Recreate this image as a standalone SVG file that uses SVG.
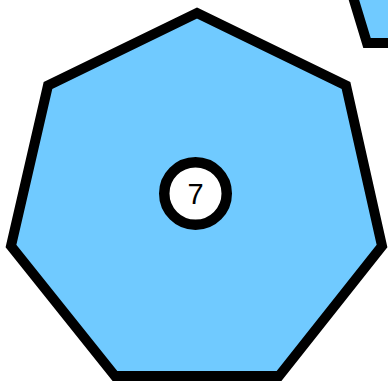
<svg xmlns="http://www.w3.org/2000/svg" width="388" height="381" viewBox="0 0 388 381">
<style>
.shape{fill:#70CAFF;stroke:#000;stroke-width:10;stroke-linejoin:miter}
.badge{fill:#fff;stroke:#000;stroke-width:10.5}
.lbl{font-family:"Liberation Sans",Arial,sans-serif;font-size:29px;fill:#000;text-anchor:middle;dominant-baseline:central}
</style>
<rect width="388" height="381" fill="#fff"/>
<g id="neighbor">
<polygon class="shape" points="351.5,-8 367,43 420,43 420,-8"/>
</g>
<g id="node7">
<polygon class="shape" points="197,13 346,85.5 382,246 279,376 115,376 11,246 48,85.5"/>
<circle class="badge" cx="195.5" cy="193.5" r="31.25"/>
<text class="lbl" x="195.5" y="194">7</text>
</g>
<g id="connectors"/>
</svg>
